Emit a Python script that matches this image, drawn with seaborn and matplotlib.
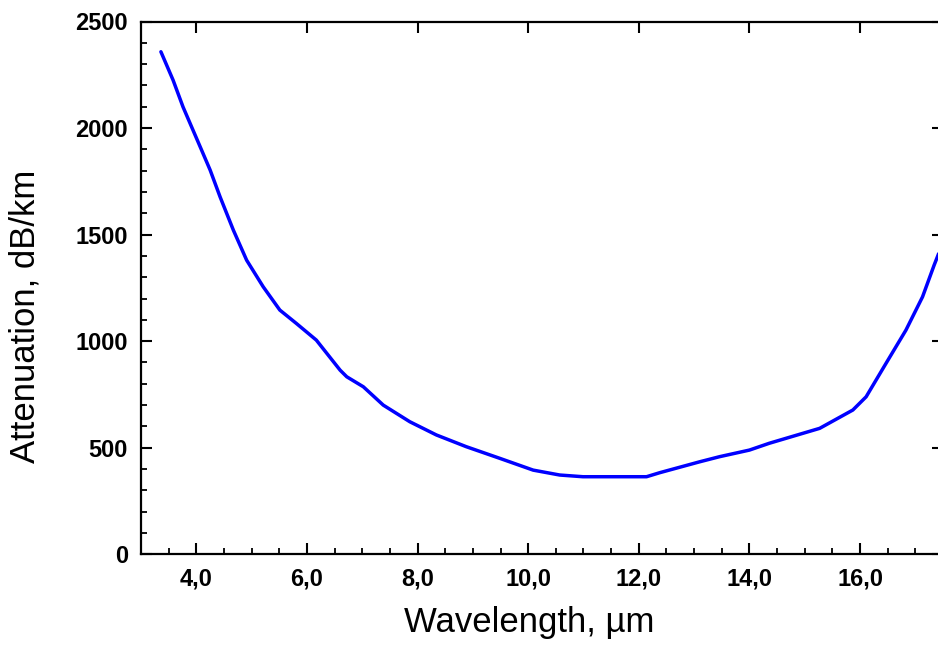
import matplotlib
matplotlib.use("Agg")
import matplotlib.pyplot as plt
import seaborn as sns
import pandas as pd
from matplotlib.ticker import FixedLocator, MultipleLocator

# ---- data ----
wavelength_um = [3.36, 3.58, 3.76, 4.07, 4.25, 4.43, 4.67, 4.91, 5.21, 5.51,
                 5.81, 6.17, 6.60, 6.72, 7.02, 7.38, 7.86, 8.34, 8.88, 9.49,
                 10.09, 10.57, 10.99, 12.14, 12.38, 13.10, 13.46, 14.00, 14.36,
                 15.27, 15.87, 16.11, 16.47, 16.83, 17.13, 17.34, 17.42]
attenuation_db_km = [2358, 2225, 2099, 1912, 1803, 1677, 1521, 1380, 1255, 1146,
                     1083, 1005, 864, 833, 786, 700, 622, 560, 505, 450,
                     395, 372, 364, 364, 383, 434, 458, 489, 521,
                     591, 677, 739, 896, 1052, 1208, 1357, 1410]
x_ticks = [4, 6, 8, 10, 12, 14, 16]
x_tick_labels = ["4,0", "6,0", "8,0", "10,0", "12,0", "14,0", "16,0"]
y_ticks = [0, 500, 1000, 1500, 2000, 2500]
y_tick_labels = ["0", "500", "1000", "1500", "2000", "2500"]
x_label = "Wavelength, \u00b5m"
y_label = "Attenuation, dB/km"

df = pd.DataFrame({"wl": wavelength_um, "att": attenuation_db_km})

sns.set_theme(style="ticks")
plt.rcParams["font.family"] = ["Liberation Sans", "DejaVu Sans"]
plt.rcParams["text.color"] = "black"
plt.rcParams["axes.labelcolor"] = "black"
plt.rcParams["xtick.color"] = "black"
plt.rcParams["ytick.color"] = "black"

fig = plt.figure(figsize=(9.38, 6.48), dpi=100)
W, H = 938, 648
left, right, bottom, top = 141, 943, 554.3, 21.5
ax = fig.add_axes([left / W, 1 - bottom / H, (right - left) / W, (bottom - top) / H])

sns.lineplot(data=df, x="wl", y="att", ax=ax, color="#0000ff", lw=2.5,
             estimator=None, sort=True)

ax.set_xlim(3.0, 17.5)
ax.set_ylim(0, 2500)

ax.xaxis.set_major_locator(FixedLocator(x_ticks))
ax.set_xticklabels(x_tick_labels)
ax.xaxis.set_minor_locator(MultipleLocator(0.5))
ax.yaxis.set_major_locator(FixedLocator(y_ticks))
ax.set_yticklabels(y_tick_labels)
ax.yaxis.set_minor_locator(MultipleLocator(100))

for s in ax.spines.values():
    s.set_visible(True)
    s.set_linewidth(1.6)
    s.set_color("black")

ax.tick_params(which="major", direction="in", length=8, width=1.5, color="black",
               labelcolor="black", top=True, right=True, labelsize=17, pad=9.5)
ax.tick_params(which="minor", direction="in", length=4.3, width=1.3, color="black",
               top=False, right=False)
for lab in ax.get_xticklabels() + ax.get_yticklabels():
    lab.set_fontweight("bold")
    lab.set_color("black")

ax.set_xlabel(x_label, fontsize=25, color="black")
ax.set_ylabel(y_label, fontsize=25, color="black")
ax.xaxis.label.set_va("baseline")
ax.xaxis.set_label_coords((529.5 - left) / (right - left), -(632 - bottom) / (bottom - top))
ax.yaxis.label.set_va("baseline")
ax.yaxis.set_label_coords((34 - left) / (right - left), (bottom - 316.5) / (bottom - top))

fig.savefig("out.png", dpi=100)
